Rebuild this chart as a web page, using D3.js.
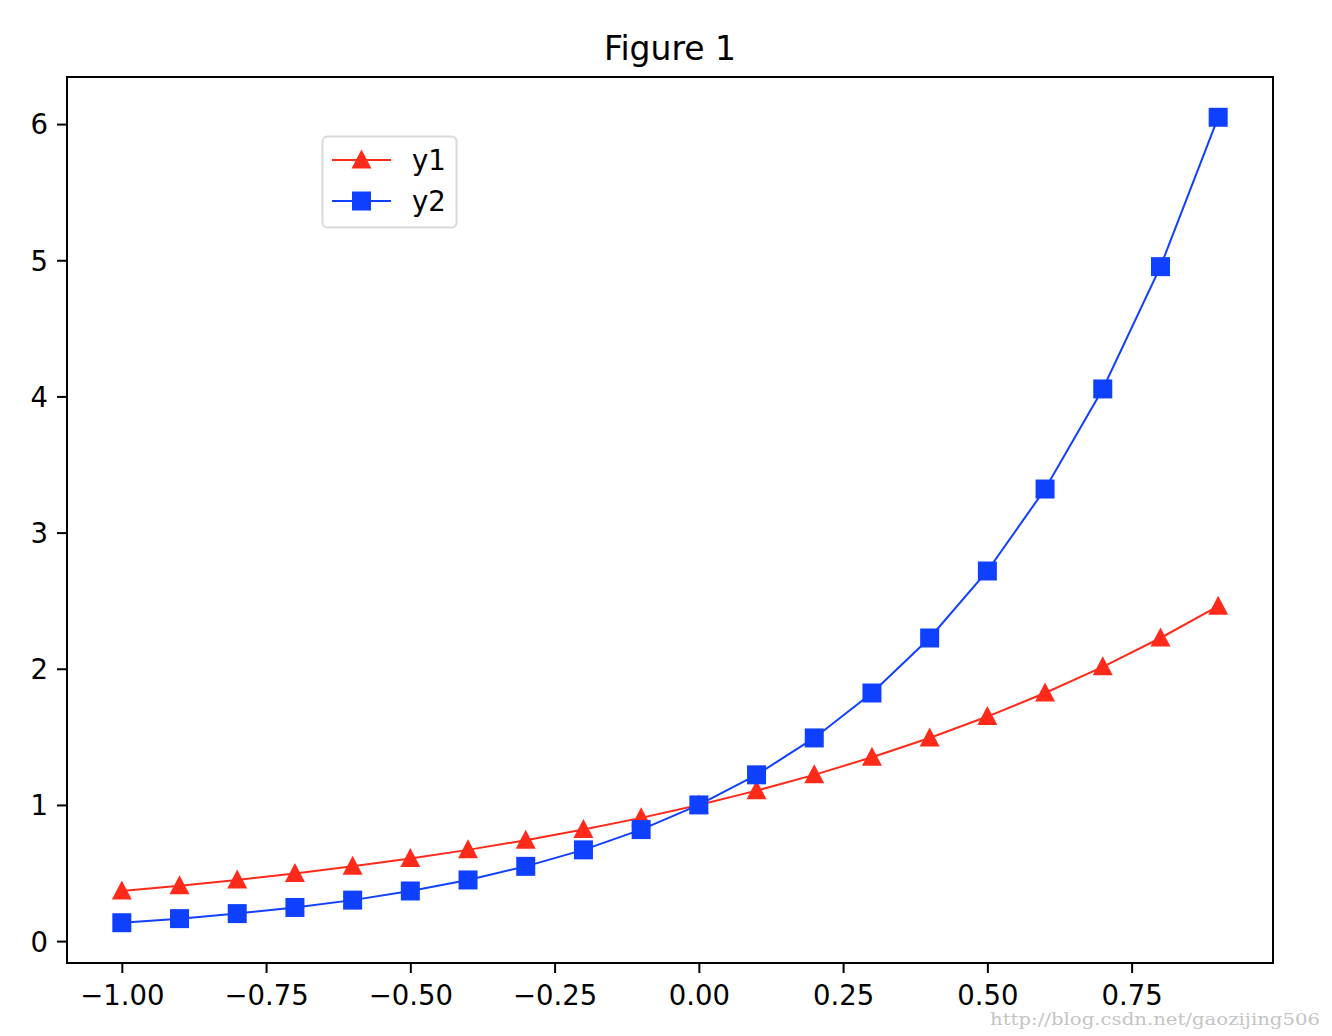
<!DOCTYPE html>
<html><head><meta charset="utf-8">
<script src="https://cdn.jsdelivr.net/npm/d3@7"></script>
<style>body{margin:0;background:#fff}svg{display:block}text{font-family:"DejaVu Sans",sans-serif}</style>
</head><body>
<svg id="c" width="1332" height="1036"></svg>
<script>
const xValues = [-1.0,-0.9,-0.8,-0.7,-0.6,-0.5,-0.4,-0.3,-0.2,-0.1,0.0,0.1,0.2,0.3,0.4,0.5,0.6,0.7,0.8,0.9];
const y1Values = [0.368,0.407,0.449,0.497,0.549,0.607,0.670,0.741,0.819,0.905,1.0,1.105,1.221,1.350,1.492,1.649,1.822,2.014,2.226,2.460];
const y2Values = [0.135,0.165,0.202,0.247,0.301,0.368,0.449,0.549,0.670,0.819,1.0,1.221,1.492,1.822,2.226,2.718,3.320,4.055,4.953,6.050];
const xTicks = [-1.0,-0.75,-0.5,-0.25,0.0,0.25,0.5,0.75];
const yTicks = [0,1,2,3,4,5,6];
const seriesNames = ["y1","y2"];
const titleText = "Figure 1";
const watermark = "http://blog.csdn.net/gaozijing506";

const svg = d3.select("#c");
const L=67,R=1273,T=77,B=963;
const x = d3.scaleLinear().domain([-1.095,0.995]).range([L,R]);
const y = d3.scaleLinear().domain([-0.1608,6.3458]).range([B,T]);
const red="#ff2a1a", blue="#1040ff";
const fmt = v => (v<0?"\u2212":"")+Math.abs(v).toFixed(2);

// axes
const xa = svg.append("g").attr("transform",`translate(0,${B})`)
  .call(d3.axisBottom(x).tickValues(xTicks).tickFormat(fmt).tickSize(10).tickPadding(9));
const ya = svg.append("g").attr("transform",`translate(${L},0)`)
  .call(d3.axisLeft(y).tickValues(yTicks).tickFormat(d3.format("d")).tickSize(10).tickPadding(9));
[xa,ya].forEach(a=>{a.select(".domain").remove();
  a.selectAll(".tick line").attr("stroke","#000").attr("stroke-width",2);
  a.selectAll(".tick text").attr("fill","#000").style("font-size","27.5px").style("font-family","DejaVu Sans");});
xa.selectAll(".tick text").attr("dy","0.85em");
ya.selectAll(".tick text").attr("dy","0.36em");

// data
const data = [y1Values,y2Values].map(v=>v.map((d,i)=>[xValues[i],d]));
const colors=[red,blue];
const line = d3.line().x(d=>x(d[0])).y(d=>y(d[1]));
data.forEach((s,k)=>{
  const g=svg.append("g");
  g.append("path").datum(s).attr("d",line).attr("fill","none").attr("stroke",colors[k]).attr("stroke-width",2);
  if(k===0){
    g.selectAll("path.m").data(s).join("path").attr("class","m")
      .attr("d","M0,-10.5L10,8.5L-10,8.5Z").attr("fill",red)
      .attr("transform",d=>`translate(${x(d[0])},${y(d[1])})`);
  } else {
    g.selectAll("rect").data(s).join("rect")
      .attr("x",d=>x(d[0])-9.5).attr("y",d=>y(d[1])-9.5).attr("width",19).attr("height",19).attr("fill",blue);
  }
});

// frame
svg.append("rect").attr("x",L).attr("y",T).attr("width",R-L).attr("height",B-T)
  .attr("fill","none").attr("stroke","#000").attr("stroke-width",2);

// title
svg.append("text").attr("x",(L+R)/2).attr("y",60).attr("text-anchor","middle")
  .style("font-size","33px").attr("fill","#000").text(titleText);

// legend
const lg = svg.append("g");
lg.append("rect").attr("x",322.5).attr("y",136.5).attr("width",134).attr("height",91).attr("rx",5)
  .attr("fill","#fff").attr("stroke","#d9d9d9").attr("stroke-width",2);
const ly=[160,201];
seriesNames.forEach((n,k)=>{
  lg.append("line").attr("x1",332).attr("x2",391).attr("y1",ly[k]).attr("y2",ly[k]).attr("stroke",colors[k]).attr("stroke-width",2);
  if(k===0) lg.append("path").attr("d","M0,-10.5L10,8.5L-10,8.5Z").attr("fill",red).attr("transform",`translate(361.5,${ly[k]})`);
  else lg.append("rect").attr("x",352).attr("y",ly[k]-9.5).attr("width",19).attr("height",19).attr("fill",blue);
  lg.append("text").attr("x",412).attr("y",ly[k]).attr("dy","0.36em").style("font-size","27.5px").attr("fill","#000").text(n);
});

// watermark
svg.append("text").attr("x",990).attr("y",1025).attr("textLength",330).attr("lengthAdjust","spacingAndGlyphs")
  .style("font-family","DejaVu Serif").style("font-size","16px").attr("fill","#c4c4c4").text(watermark);
</script>
</body></html>
